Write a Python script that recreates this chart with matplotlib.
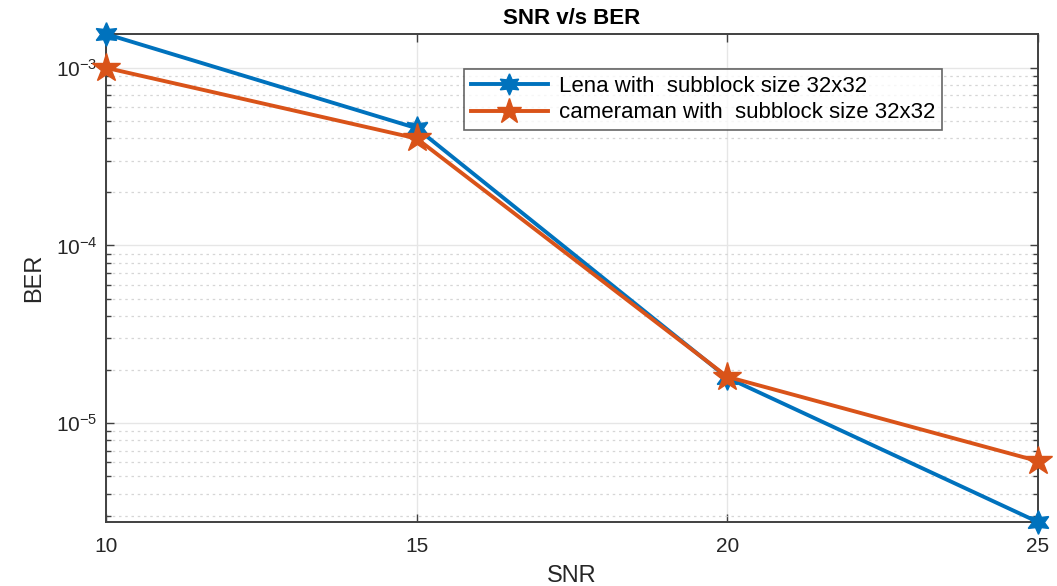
import numpy as np
import matplotlib.pyplot as plt
from matplotlib.ticker import LogLocator, FixedLocator, NullFormatter

plt.rcParams['font.family'] = ['Liberation Sans', 'DejaVu Sans']
plt.rcParams['mathtext.fontset'] = 'custom'
plt.rcParams['mathtext.rm'] = 'Liberation Sans'
plt.rcParams['mathtext.default'] = 'regular'

snr = [10, 15, 20, 25]
ber_lena = [1.55e-3, 4.57e-4, 1.80e-5, 2.77e-6]
ber_cam = [1.0e-3, 4.0e-4, 1.82e-5, 6.1e-6]
labels = ['Lena with  subblock size 32x32', 'cameraman with  subblock size 32x32']
yticks = [1e-5, 1e-4, 1e-3]
yticklabels = ['10$^{-5}$', '10$^{-4}$', '10$^{-3}$']

blue = '#0072BD'
orange = '#D95319'
axcol = '#404040'
txtcol = '#262626'

fig = plt.figure(figsize=(10.57, 5.86), dpi=100)
ax = fig.add_axes([0.1003, 0.1092, 0.8817, 0.8328])

ax.semilogy(snr, ber_lena, color=blue, lw=2.8, marker=(6, 1, 0), ms=17,
            label=labels[0], clip_on=False, zorder=3)
ax.semilogy(snr, ber_cam, color=orange, lw=2.8, marker='*', ms=21,
            label=labels[1], clip_on=False, zorder=3)

ax.set_xlim(10, 25)
ax.set_ylim(min(ber_lena), max(ber_lena))
ax.set_xticks(snr)
ax.yaxis.set_major_locator(FixedLocator(yticks))
ax.set_yticklabels(yticklabels)
ax.yaxis.set_minor_locator(LogLocator(base=10, subs=np.arange(2, 10)))
ax.yaxis.set_minor_formatter(NullFormatter())

ax.grid(True, which='major', color='#e6e6e6', lw=1.0, ls='-')
ax.grid(True, which='minor', axis='y', color='#d6d6d6', lw=0.9, ls=(0, (2, 3)))
ax.set_axisbelow(True)

ax.tick_params(which='both', direction='in', top=True, right=True,
               color=axcol, labelcolor=txtcol, labelsize=15)
ax.tick_params(which='major', length=6, width=1)
ax.tick_params(which='minor', length=3.5, width=1)
ax.tick_params(axis='x', pad=11)
ax.tick_params(axis='y', pad=6)
for s in ax.spines.values():
    s.set_color(axcol)
    s.set_linewidth(1.4)

ax.set_title('SNR v/s BER', fontsize=16, fontweight='bold', pad=7)
ax.set_xlabel('SNR', fontsize=17, color=txtcol, labelpad=6)
ax.set_ylabel('BER', fontsize=17, color=txtcol, labelpad=8)

leg = ax.legend(loc='upper left', bbox_to_anchor=(0.384, 0.928), fontsize=16,
                frameon=True, fancybox=False, edgecolor=axcol, borderpad=0.3,
                labelspacing=0.25, handlelength=3.5, handletextpad=0.5,
                borderaxespad=0, markerscale=0.9)
leg.get_frame().set_linewidth(1.2)

fig.savefig('out.png', dpi=100)
